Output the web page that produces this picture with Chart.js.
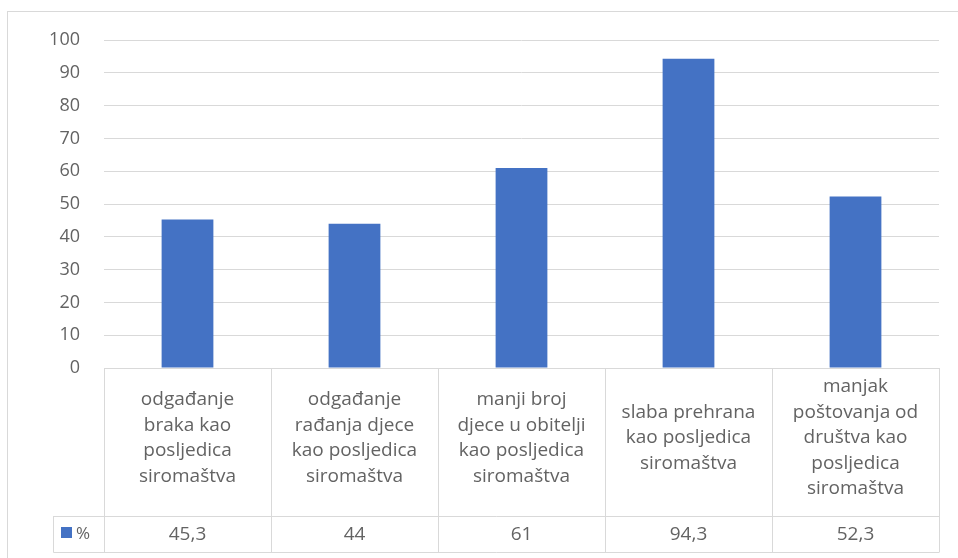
<!DOCTYPE html>
<html>
<head>
<meta charset="utf-8">
<script src="https://cdn.jsdelivr.net/npm/chart.js@4.4.1/dist/chart.umd.min.js"></script>
<style>
	html, body { margin: 0; padding: 0; background: #fff; }
	#wrap { position: relative; width: 958px; height: 558px; }
</style>
</head>
<body>
<div id="wrap"><canvas id="chart" width="958" height="558"></canvas></div>
<script>
const categories = [
	['odgađanje', 'braka kao', 'posljedica', 'siromaštva'],
	['odgađanje', 'rađanja djece', 'kao posljedica', 'siromaštva'],
	['manji broj', 'djece u obitelji', 'kao posljedica', 'siromaštva'],
	['slaba prehrana', 'kao posljedica', 'siromaštva'],
	['manjak', 'poštovanja od', 'društva kao', 'posljedica', 'siromaštva'],
]
const values = [45.3, 44, 61, 94.3, 52.3]
const valueLabels = ['45,3', '44', '61', '94,3', '52,3']
const seriesName = '%'

const barColor = '#4472c4'
const lineColor = '#d9d9d9'
const textColor = '#636363'
const fontFamily = '"Open Sans", "Noto Sans", sans-serif'

// table under the plot (Excel data table)
const dataTable = {
	id: 'dataTable',
	afterDraw(chart) {
		const { ctx, chartArea, scales } = chart
		const x = scales.x
		const top = chartArea.bottom
		const rowSplit = 516
		const bottom = 552.5
		const legendLeft = 53.5
		const step = x.getPixelForValue(1) - x.getPixelForValue(0)

		ctx.save()
		// outer frame
		ctx.strokeStyle = lineColor
		ctx.lineWidth = 1
		ctx.strokeRect(7.5, 11.5, 960, 560)

		ctx.beginPath()
		ctx.moveTo(legendLeft, rowSplit + 0.5)
		ctx.lineTo(chartArea.right, rowSplit + 0.5)
		ctx.moveTo(legendLeft, bottom)
		ctx.lineTo(chartArea.right, bottom)
		ctx.moveTo(legendLeft, rowSplit)
		ctx.lineTo(legendLeft, bottom)
		for (let i = 0; i <= categories.length; i++) {
			const px = Math.round(x.getPixelForValue(i) - step / 2) + 0.5
			ctx.moveTo(px, top)
			ctx.lineTo(px, bottom)
		}
		ctx.stroke()

		ctx.fillStyle = textColor
		ctx.font = '19px ' + fontFamily
		ctx.textAlign = 'center'
		ctx.textBaseline = 'middle'
		const lineH = 25.5
		const mid = (top + rowSplit) / 2 - 4
		categories.forEach((lines, i) => {
			const cx = x.getPixelForValue(i)
			const start = mid - ((lines.length - 1) * lineH) / 2
			lines.forEach((t, j) => ctx.fillText(t, cx, start + j * lineH))
			ctx.fillText(valueLabels[i], cx, (rowSplit + bottom) / 2)
		})

		// legend key
		ctx.fillStyle = barColor
		ctx.fillRect(61, 527, 11, 11)
		ctx.fillStyle = textColor
		ctx.textAlign = 'left'
		ctx.font = '17px ' + fontFamily
		ctx.fillText(seriesName, 76, (rowSplit + bottom) / 2)
		ctx.restore()
	},
}

const chartData = {
	labels: categories,
	datasets: [
		{
			label: seriesName,
			data: values,
			backgroundColor: barColor,
			barPercentage: 0.62,
			categoryPercentage: 0.5,
		},
	],
}

const config = {
	type: 'bar',
	data: chartData,
	options: {
		responsive: false,
		animation: false,
		layout: { padding: { left: 0, top: 40, right: 19, bottom: 190 } },
		plugins: { legend: { display: false }, tooltip: { enabled: false } },
		scales: {
			x: {
				ticks: { display: false },
				grid: { display: false },
				border: { display: true, color: lineColor },
				afterFit: s => { s.height = 0 },
			},
			y: {
				min: 0,
				max: 100,
				ticks: {
					stepSize: 10,
					padding: 24,
					color: textColor,
					font: { family: fontFamily, size: 18 },
				},
				grid: { color: lineColor, drawTicks: false },
				border: { display: false },
				afterFit: s => { s.width = 104 },
			},
		},
	},
	plugins: [dataTable],
}

const canvaRef = document.querySelector('#chart')
const barChart = new Chart(canvaRef, config)
</script>
</body>
</html>
